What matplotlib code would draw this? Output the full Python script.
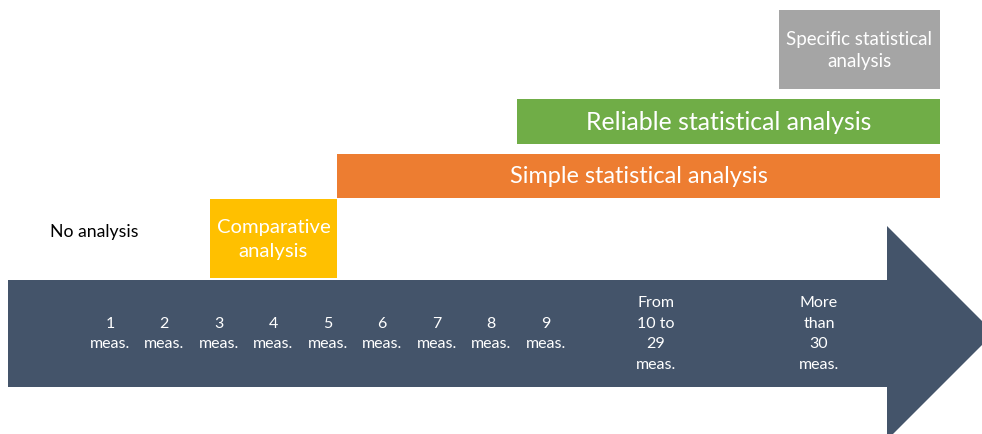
import matplotlib.pyplot as plt
from matplotlib.patches import Rectangle, Polygon

plt.rcParams['font.family'] = ['Lato', 'DejaVu Sans']

# measurement categories along the arrow
meas_labels = ['1\nmeas.', '2\nmeas.', '3\nmeas.', '4\nmeas.', '5\nmeas.',
               '6\nmeas.', '7\nmeas.', '8\nmeas.', '9\nmeas.',
               'From\n10 to\n29\nmeas.', 'More\nthan\n30\nmeas.']
meas_x = [110, 164, 219, 273, 328, 382, 437, 491, 546, 656, 819]

# analysis levels: label, colour, box (x0, x1, y0, y1), font size
levels = ['Comparative\nanalysis', 'Simple statistical analysis',
          'Reliable statistical analysis', 'Specific statistical\nanalysis']
level_colors = ['#FFC000', '#ED7D31', '#70AD47', '#A5A5A5']
level_boxes = [(210, 337, 200, 279), (337, 940, 155, 199),
               (517, 940, 100, 145), (779, 940, 11, 90)]
level_fs = [14.6, 16.9, 17.9, 13.5]
level_ls = [1.45, 1.2, 1.2, 1.35]

W, H = 982, 435
fig = plt.figure(figsize=(W / 100, H / 100), dpi=100)
ax = fig.add_axes([0, 0, 1, 1])
ax.set_xlim(0, W)
ax.set_ylim(H, 0)
ax.axis('off')

# big arrow
navy = '#44546A'
arrow = Polygon([(8, 281), (887, 281), (887, 227), (994, 334),
                 (887, 441), (887, 388), (8, 388)],
                closed=True, facecolor=navy, edgecolor='none')
ax.add_patch(arrow)

for lab, x in zip(meas_labels, meas_x):
    ax.text(x, 334, lab, color='white', ha='center', va='center',
            fontsize=11.5, linespacing=1.62)

for lab, c, (x0, x1, y0, y1), fs, ls in zip(levels, level_colors, level_boxes,
                                            level_fs, level_ls):
    ax.add_patch(Rectangle((x0, y0), x1 - x0, y1 - y0, facecolor=c, edgecolor='none'))
    ax.text((x0 + x1) / 2, (y0 + y1) / 2, lab, color='white', ha='center',
            va='center', fontsize=fs, linespacing=ls)

ax.text(94, 232, 'No analysis', color='black', ha='center', va='center', fontsize=12.7)

fig.savefig('out.png', dpi=100)
